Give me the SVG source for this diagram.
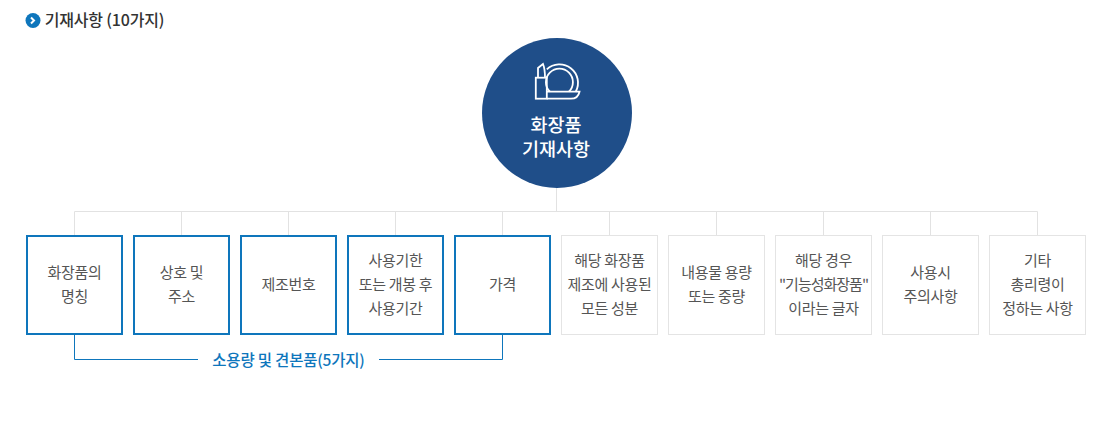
<svg xmlns="http://www.w3.org/2000/svg" width="1112" height="435" viewBox="0 0 1112 435">
<style>
text{font-family:"Noto Sans CJK KR","Noto Sans",sans-serif;text-anchor:middle}
.t{font-size:15px;fill:#555;letter-spacing:-.3px}
.b{fill:#fff;stroke:#0e76bc;stroke-width:2}
.g{fill:#fff;stroke:#e4e4e4;stroke-width:1}
.c{fill:none;stroke:#e2e2e2;stroke-width:1}
.l{fill:none;stroke:#0e76bc;stroke-width:1}
.i{fill:none;stroke:#fff;stroke-width:1.800}
</style>
<rect width="1112" height="435" fill="#fff"/>
<g id="heading">
<circle cx="33" cy="20.500" r="7.500" fill="#0e76bc"/>
<path d="M31 17.500l3 3-3 3" fill="none" stroke="#fff" stroke-width="2"/>
<text x="104.500" y="26" style="font-size:16px;font-weight:500;fill:#333;letter-spacing:-.2px">기재사항 (10가지)</text>
</g>
<g id="connectors">
<path class="c" d="M556.500 188V211.500M74.500 235V211.500H1037.500V235M181.500 211.500V235M288.500 211.500V235M395.500 211.500V235M502.500 211.500V235M609.500 211.500V235M716.500 211.500V235M823.500 211.500V235M930.500 211.500V235"/>
<path class="l" d="M74.500 335V359.500H198M379 359.500H502.500V335"/>
</g>
<g id="root">
<circle cx="557" cy="113" r="75" fill="#1f4e89"/>
<g class="i">
<path d="M538 77.700V68L543 64Q545 69 545 77.700"/>
<rect x="535.800" y="77.700" width="11" height="21"/>
<path d="M546.800 69.400A18.500 18.500 0 0 1 575.750 91.700"/>
<path d="M549.900 91.700A13.500 13.500 0 1 1 568.900 91.700"/>
<path d="M546.800 91.700H579.500Q578 98.700 571 98.700H546.800"/>
</g>
<text x="556" y="131.500" style="font-size:18.500px;font-weight:500;fill:#fff">화장품</text>
<text x="556" y="155.500" style="font-size:18.500px;font-weight:500;fill:#fff">기재사항</text>
</g>
<g id="n1"><rect class="b" x="27" y="236" width="95" height="98"/><text class="t" x="74.500" y="278">화장품의</text><text class="t" x="74.500" y="302">명칭</text></g>
<g id="n2"><rect class="b" x="134" y="236" width="95" height="98"/><text class="t" x="181.500" y="278">상호 및</text><text class="t" x="181.500" y="302">주소</text></g>
<g id="n3"><rect class="b" x="241" y="236" width="95" height="98"/><text class="t" x="288.500" y="290">제조번호</text></g>
<g id="n4"><rect class="b" x="348" y="236" width="95" height="98"/><text class="t" x="395.500" y="266">사용기한</text><text class="t" x="395.500" y="290">또는 개봉 후</text><text class="t" x="395.500" y="314">사용기간</text></g>
<g id="n5"><rect class="b" x="455" y="236" width="95" height="98"/><text class="t" x="502.500" y="290">가격</text></g>
<g id="n6"><rect class="g" x="561.500" y="235.500" width="96" height="99"/><text class="t" x="609.500" y="266">해당 화장품</text><text class="t" x="609.500" y="290">제조에 사용된</text><text class="t" x="609.500" y="314">모든 성분</text></g>
<g id="n7"><rect class="g" x="668.500" y="235.500" width="96" height="99"/><text class="t" x="716.500" y="278">내용물 용량</text><text class="t" x="716.500" y="302">또는 중량</text></g>
<g id="n8"><rect class="g" x="775.500" y="235.500" width="96" height="99"/><text class="t" x="823.500" y="266">해당 경우</text><text class="t" x="823.500" y="290" style="letter-spacing:-1px">"기능성화장품"</text><text class="t" x="823.500" y="314">이라는 글자</text></g>
<g id="n9"><rect class="g" x="882.500" y="235.500" width="96" height="99"/><text class="t" x="930.500" y="278">사용시</text><text class="t" x="930.500" y="302">주의사항</text></g>
<g id="n10"><rect class="g" x="989.500" y="235.500" width="96" height="99"/><text class="t" x="1037.500" y="266">기타</text><text class="t" x="1037.500" y="290">총리령이</text><text class="t" x="1037.500" y="314">정하는 사항</text></g>
<text x="288.500" y="365.500" style="font-size:15.500px;font-weight:500;fill:#0e76bc;letter-spacing:-.2px">소용량 및 견본품(5가지)</text>
</svg>
